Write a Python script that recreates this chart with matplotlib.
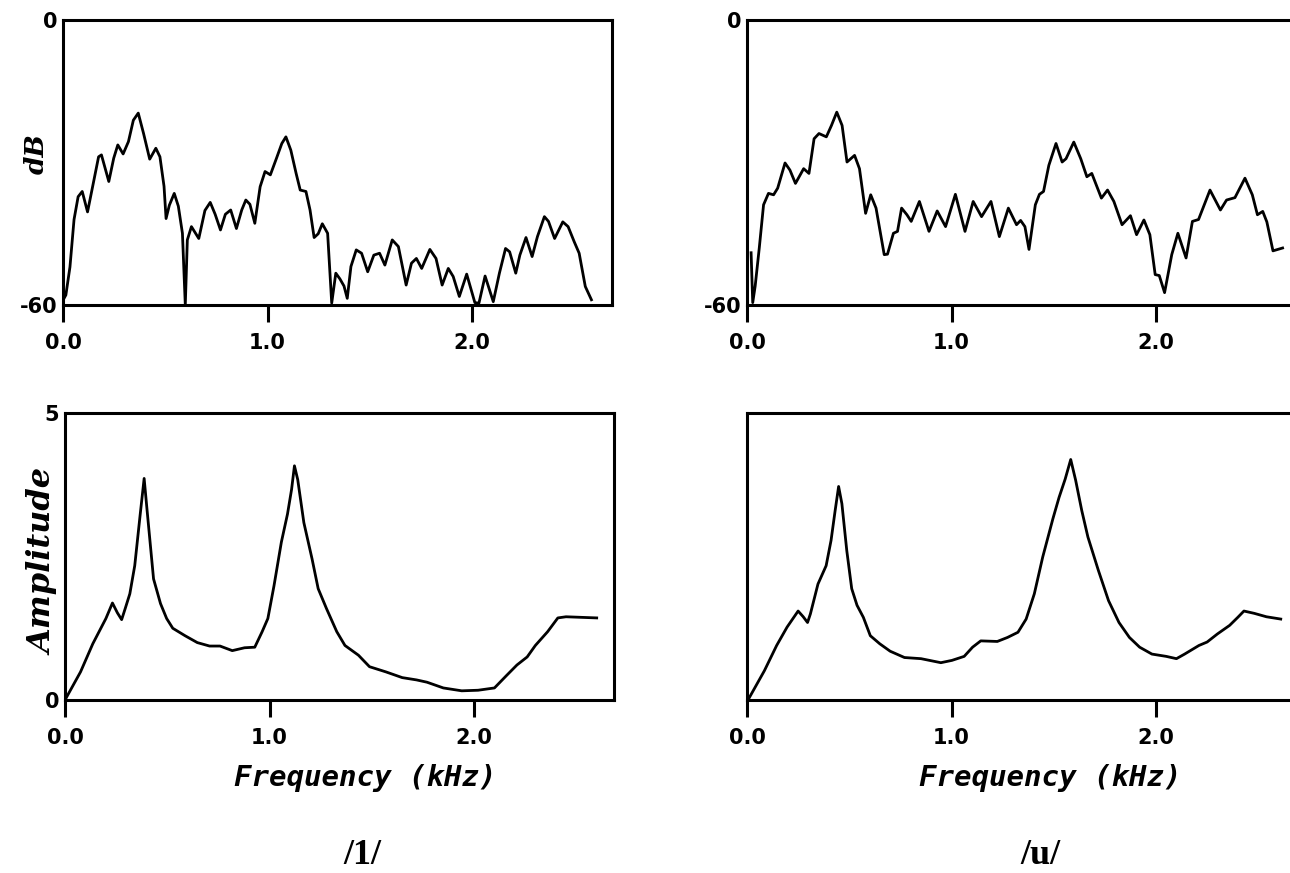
import matplotlib
matplotlib.use("Agg")
import matplotlib.pyplot as plt
import numpy as np

# 频谱数据 (kHz, dB) —— 元音 /i/ 与 /u/
i_db = [(0.0, -59), (0.014, -57.9), (0.034, -52), (0.054, -42), (0.074, -37.2), (0.094, -36.1),
        (0.12, -40.4), (0.148, -34.4), (0.174, -28.8), (0.188, -28.4), (0.224, -34), (0.248, -29.1),
        (0.268, -26.3), (0.294, -28.2), (0.32, -25.6), (0.344, -21.1), (0.368, -19.6), (0.394, -23.9),
        (0.424, -29.3), (0.454, -27), (0.474, -28.8), (0.494, -35), (0.504, -41.8), (0.52, -39),
        (0.544, -36.5), (0.564, -39.2), (0.584, -44.9), (0.598, -60), (0.608, -46.3), (0.628, -43.5),
        (0.664, -46), (0.694, -40.1), (0.72, -38.4), (0.744, -40.9), (0.77, -44.2), (0.794, -40.9),
        (0.82, -40), (0.848, -43.9), (0.874, -40), (0.894, -37.9), (0.914, -38.8), (0.938, -42.8),
        (0.964, -35.1), (0.988, -31.9), (1.014, -32.6), (1.044, -29.1), (1.07, -26), (1.09, -24.6),
        (1.114, -27.4), (1.14, -32.3), (1.16, -35.8), (1.188, -36.1), (1.208, -40), (1.228, -45.8),
        (1.248, -45), (1.268, -42.9), (1.294, -44.9), (1.314, -59.6), (1.334, -53.3), (1.354, -54.5),
        (1.374, -56), (1.39, -58.6), (1.408, -51.9), (1.434, -48.4), (1.46, -49.1), (1.49, -53),
        (1.52, -49.5), (1.548, -49.1), (1.574, -51.6), (1.61, -46.3), (1.64, -47.7), (1.678, -55.8),
        (1.704, -51.2), (1.728, -50.2), (1.754, -52.3), (1.794, -48.3), (1.824, -50.2), (1.854, -55.8),
        (1.884, -52.3), (1.908, -54), (1.938, -58.2), (1.974, -53.5), (2.014, -59.5), (2.034, -59.6),
        (2.064, -53.9), (2.104, -59.3), (2.134, -53.3), (2.164, -48.1), (2.184, -48.8), (2.214, -53.3),
        (2.234, -49.5), (2.264, -45.8), (2.294, -49.8), (2.32, -45.6), (2.354, -41.4), (2.374, -42.4),
        (2.404, -46), (2.444, -42.5), (2.47, -43.5), (2.5, -46.7), (2.524, -49.1), (2.554, -56.1),
        (2.584, -58.9)]

u_db = [(0.02, -49), (0.028, -59.5), (0.04, -56), (0.06, -48), (0.081, -38.9), (0.105, -36.5),
        (0.13, -36.8), (0.15, -35.4), (0.186, -30.1), (0.21, -31.6), (0.237, -34.4), (0.277, -31.3),
        (0.303, -32.3), (0.328, -25), (0.352, -23.9), (0.388, -24.6), (0.413, -22.2), (0.439, -19.4),
        (0.465, -22.2), (0.489, -29.9), (0.526, -28.5), (0.55, -31.3), (0.58, -40.7), (0.605, -36.8),
        (0.631, -39.6), (0.671, -49.4), (0.687, -49.3), (0.716, -44.9), (0.736, -44.5), (0.756, -39.6),
        (0.782, -41), (0.803, -42.4), (0.843, -38.2), (0.89, -44.5), (0.93, -40.2), (0.971, -43.5),
        (1.019, -36.7), (1.066, -44.5), (1.106, -38.2), (1.147, -41.4), (1.193, -38.2), (1.234, -45.6),
        (1.278, -39.6), (1.318, -43.1), (1.338, -42.2), (1.359, -43.5), (1.379, -48.3), (1.41, -38.9),
        (1.43, -36.7), (1.45, -36.1), (1.476, -30.6), (1.511, -26), (1.541, -29.9), (1.56, -29.2),
        (1.598, -25.7), (1.632, -29.2), (1.662, -33), (1.686, -32.3), (1.733, -37.5), (1.763, -35.8),
        (1.794, -38.2), (1.834, -43.1), (1.875, -41.2), (1.905, -45.2), (1.941, -42.1), (1.97, -45.2),
        (1.996, -53.6), (2.016, -53.8), (2.042, -57.4), (2.077, -49.4), (2.107, -44.9), (2.147, -50.1),
        (2.178, -42.4), (2.208, -42), (2.264, -35.8), (2.315, -40), (2.345, -37.9), (2.386, -37.4),
        (2.435, -33.3), (2.471, -36.8), (2.496, -41), (2.522, -40.3), (2.542, -42.5), (2.572, -48.6),
        (2.619, -48)]

# 幅度谱 (kHz, amplitude)
i_amp = [(0.0, 0.0), (0.076, 0.49), (0.136, 0.98), (0.2, 1.42), (0.232, 1.69), (0.256, 1.52),
         (0.277, 1.4), (0.295, 1.6), (0.317, 1.85), (0.341, 2.34), (0.367, 3.21), (0.387, 3.86),
         (0.401, 3.32), (0.433, 2.11), (0.467, 1.68), (0.497, 1.42), (0.527, 1.25), (0.587, 1.12),
         (0.647, 1.0), (0.707, 0.94), (0.758, 0.94), (0.818, 0.86), (0.878, 0.91), (0.928, 0.92),
         (0.964, 1.19), (0.992, 1.42), (1.022, 1.99), (1.058, 2.75), (1.088, 3.24), (1.108, 3.67),
         (1.122, 4.08), (1.138, 3.84), (1.168, 3.09), (1.208, 2.46), (1.238, 1.94), (1.279, 1.59),
         (1.329, 1.19), (1.369, 0.95), (1.435, 0.78), (1.489, 0.58), (1.569, 0.49), (1.649, 0.39),
         (1.719, 0.35), (1.77, 0.31), (1.85, 0.21), (1.94, 0.16), (2.02, 0.17), (2.1, 0.21),
         (2.16, 0.43), (2.21, 0.61), (2.26, 0.75), (2.3, 0.95), (2.36, 1.19), (2.41, 1.43),
         (2.45, 1.45), (2.6, 1.43)]

u_amp = [(0.0, 0.0), (0.008, 0.02), (0.085, 0.51), (0.145, 0.95), (0.196, 1.27), (0.25, 1.55),
         (0.275, 1.45), (0.296, 1.35), (0.31, 1.5), (0.347, 2.02), (0.387, 2.34), (0.411, 2.78),
         (0.431, 3.3), (0.448, 3.72), (0.464, 3.42), (0.488, 2.6), (0.512, 1.94), (0.538, 1.65),
         (0.569, 1.44), (0.603, 1.12), (0.649, 0.98), (0.7, 0.85), (0.77, 0.74), (0.851, 0.72),
         (0.948, 0.65), (1.002, 0.69), (1.062, 0.76), (1.103, 0.92), (1.143, 1.03), (1.224, 1.02),
         (1.274, 1.09), (1.325, 1.18), (1.365, 1.41), (1.405, 1.85), (1.446, 2.49), (1.496, 3.16),
         (1.526, 3.53), (1.556, 3.85), (1.583, 4.19), (1.607, 3.83), (1.637, 3.3), (1.667, 2.84),
         (1.718, 2.26), (1.768, 1.73), (1.819, 1.35), (1.87, 1.09), (1.92, 0.92), (1.98, 0.8),
         (2.05, 0.76), (2.1, 0.72), (2.14, 0.8), (2.21, 0.95), (2.25, 1.01), (2.3, 1.15),
         (2.36, 1.3), (2.4, 1.44), (2.43, 1.55), (2.48, 1.51), (2.54, 1.45), (2.61, 1.41)]

x_ticks = [0, 1, 2]
x_tick_labels = ['0.0', '1.0', '2.0']

plt.rcParams['font.family'] = ['DejaVu Sans']

fig = plt.figure(figsize=(12.9, 8.73), dpi=100)
W, H = 1290, 873


def make_axes(x0, y_top, y_bot, kind, show_y):
    # 像素坐标 -> figure 坐标；宽度对应 2.685 kHz
    w = 2.685 * 204.5
    ax = fig.add_axes([x0 / W, 1 - y_bot / H, w / W, (y_bot - y_top) / H])
    ax.set_xlim(0, 2.685)
    for s in ax.spines.values():
        s.set_linewidth(2.2)
    ax.set_xticks(x_ticks)
    ax.set_xticklabels(x_tick_labels)
    ax.tick_params(axis='x', direction='out', length=12, width=2.2, pad=8,
                   labelsize=15)
    if kind == 'db':
        ax.set_ylim(-60, 0)
        ax.set_yticks([-60, 0])
        ax.set_yticklabels(['-60', '0'])
    else:
        ax.set_ylim(0, 5)
        ax.set_yticks([0, 5])
        ax.set_yticklabels(['0', '5'])
    ax.tick_params(axis='y', length=0, pad=4, labelsize=15, labelleft=show_y)
    for lab in ax.get_xticklabels() + ax.get_yticklabels():
        lab.set_fontweight('bold')
    return ax


ax1 = make_axes(63, 20, 305, 'db', True)
ax2 = make_axes(747, 20, 305, 'db', True)
ax3 = make_axes(65, 413, 700, 'amp', True)
ax4 = make_axes(747, 413, 700, 'amp', False)

for ax, data in [(ax1, i_db), (ax2, u_db), (ax3, i_amp), (ax4, u_amp)]:
    xs, ys = np.array(data).T
    ax.plot(xs, ys, color='black', lw=2.0, solid_joinstyle='round', clip_on=True)

# 轴标签
fig.text(36 / W, 1 - 154 / H, 'dB', rotation=90, ha='center', va='center',
         fontsize=19, fontweight='bold', style='italic', family='DejaVu Serif')
fig.text(44 / W, 1 - 562 / H, 'Amplitude', rotation=90, ha='center', va='center',
         fontsize=23, fontweight='bold', style='italic', family='DejaVu Serif')
for xc in [365, 1050]:
    fig.text(xc / W, 1 - 778 / H, 'Frequency (kHz)', ha='center', va='center',
             fontsize=21, fontweight='bold', style='italic', family='DejaVu Sans Mono')

# 元音标签
fig.text(362 / W, 1 - 855 / H, '/1/', ha='center', va='center',
         fontsize=26, fontweight='bold', family='Liberation Serif')
fig.text(1040 / W, 1 - 855 / H, '/u/', ha='center', va='center',
         fontsize=26, fontweight='bold', family='Liberation Serif')

fig.savefig('out.png', dpi=100, facecolor='white')
